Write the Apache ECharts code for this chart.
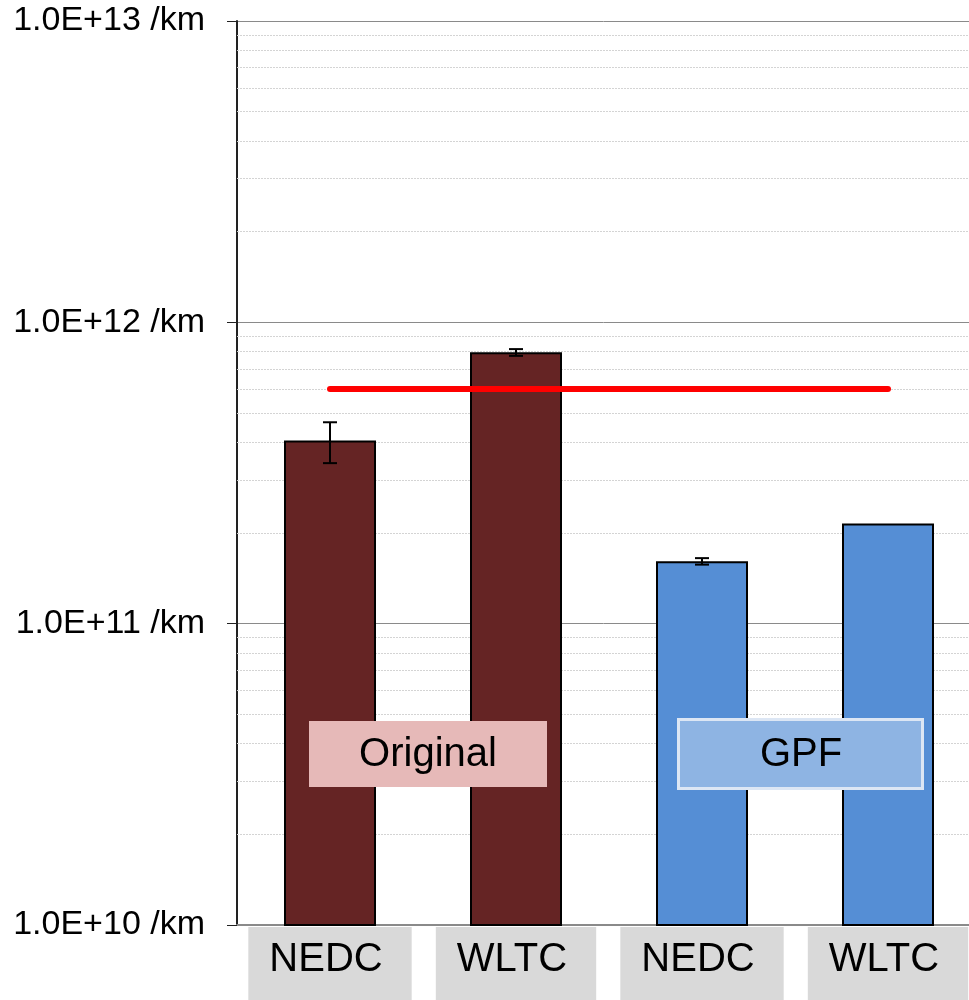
<!DOCTYPE html>
<html>
<head>
<meta charset="utf-8">
<script src="https://cdn.jsdelivr.net/npm/echarts@6/dist/echarts.min.js"></script>
<style>
  html, body { margin: 0; padding: 0; background: #ffffff; }
  #chart { width: 969px; height: 1000px; }
</style>
</head>
<body>
<div id="chart"></div>
<script>
// Particle number emissions per km, by test cycle, before and after the filter
const categories = ['NEDC', 'WLTC', 'NEDC', 'WLTC'];
const groups = ['Original', 'Original', 'GPF', 'GPF'];
const particleValues = [4.05e11, 7.95e11, 1.61e11, 2.15e11];
const errorLow = [3.41e11, 7.74e11, 1.57e11, null];
const errorHigh = [4.66e11, 8.15e11, 1.65e11, null];
const limitValue = 6.0e11;
const minorGridValues = [];
[1e10, 1e11, 1e12].forEach(function (decade) {
  for (let m = 2; m <= 9; m++) minorGridValues.push(m * decade);
});

const groupColors = { Original: '#652424', GPF: '#558ED5' };
const FONT = '"Liberation Sans", Arial, sans-serif';

const chart = echarts.init(document.getElementById('chart'));

const errorData = categories.map(function (c, i) {
  return errorLow[i] == null ? null : [i, errorLow[i], errorHigh[i]];
}).filter(function (d) { return d; });

chart.setOption({
  backgroundColor: '#ffffff',
  animation: false,
  grid: { left: 237, top: 21, bottom: 75, width: 744, containLabel: false, outerBoundsMode: 'none' },
  xAxis: {
    type: 'category',
    data: categories,
    z: 0,
    axisLine: { lineStyle: { color: '#8a8a8a', width: 2 } },
    axisTick: { show: false },
    splitLine: { show: false },
    axisLabel: {
      fontFamily: FONT,
      fontSize: 40,
      color: '#000',
      backgroundColor: '#d9d9d9',
      padding: [13, 29, 40, 21],
      margin: 2,
      interval: 0
    }
  },
  yAxis: {
    type: 'log',
    logBase: 10,
    min: 1e10,
    max: 1e13,
    splitNumber: 3,
    axisLine: { show: true, lineStyle: { color: '#222', width: 2 } },
    axisTick: { show: true, length: 10, lineStyle: { color: '#222', width: 1 } },
    splitLine: { show: true, lineStyle: { color: '#8a8a8a', width: 1 } },
    axisLabel: {
      fontFamily: FONT,
      fontSize: 34,
      color: '#000',
      margin: 32,
      formatter: function (v) {
        return '1.0E+' + Math.round(Math.log10(v)) + ' /km';
      }
    }
  },
  graphic: {
    elements: [
      {
        type: 'group', left: 309, top: 721, z: 100,
        children: [
          { type: 'rect', z: 100, shape: { x: 0, y: 0, width: 238, height: 66 }, style: { fill: '#E6B9B8' } },
          { type: 'text', z: 101, x: 119, y: 34, style: { text: 'Original', font: '40px ' + FONT, fill: '#000', align: 'center', verticalAlign: 'middle' } }
        ]
      },
      {
        type: 'group', left: 677, top: 718, z: 100,
        children: [
          { type: 'rect', z: 100, shape: { x: 1.5, y: 1.5, width: 244, height: 69 }, style: { fill: '#8EB4E3', stroke: '#DCE6F4', lineWidth: 3 } },
          { type: 'text', z: 101, x: 124, y: 37, style: { text: 'GPF', font: '40px ' + FONT, fill: '#000', align: 'center', verticalAlign: 'middle' } }
        ]
      }
    ]
  },
  series: [
    {
      // light dashed minor gridlines at 2..9 of each decade, kept behind the bars
      type: 'line',
      data: [],
      z: 1,
      silent: true,
      markLine: {
        silent: true,
        z: 1,
        symbol: ['none', 'none'],
        label: { show: false },
        lineStyle: { color: '#d4d4d4', width: 1, type: [2, 1] },
        data: minorGridValues.map(function (v) { return { yAxis: v }; })
      }
    },
    {
      type: 'bar',
      barWidth: 92,
      z: 3,
      data: particleValues.map(function (v, i) {
        return {
          value: v,
          itemStyle: { color: groupColors[groups[i]], borderColor: '#000', borderWidth: 2 }
        };
      }),
      markLine: {
        silent: true,
        symbol: ['none', 'none'],
        label: { show: false },
        z: 10,
        lineStyle: { color: '#FF0000', width: 6, type: 'solid', cap: 'round' },
        data: [[{ coord: [0, limitValue] }, { coord: [3, limitValue] }]]
      }
    },
    {
      type: 'custom',
      z: 5,
      data: errorData,
      renderItem: function (params, api) {
        const x = api.coord([api.value(0), api.value(1)])[0];
        const yLow = api.coord([api.value(0), api.value(1)])[1];
        const yHigh = api.coord([api.value(0), api.value(2)])[1];
        const half = 7;
        const style = { stroke: '#000', lineWidth: 2 };
        return {
          type: 'group',
          children: [
            { type: 'line', shape: { x1: x, y1: yLow, x2: x, y2: yHigh }, style: style },
            { type: 'line', shape: { x1: x - half, y1: yLow, x2: x + half, y2: yLow }, style: style },
            { type: 'line', shape: { x1: x - half, y1: yHigh, x2: x + half, y2: yHigh }, style: style }
          ]
        };
      }
    }
  ]
});
</script>
</body>
</html>
